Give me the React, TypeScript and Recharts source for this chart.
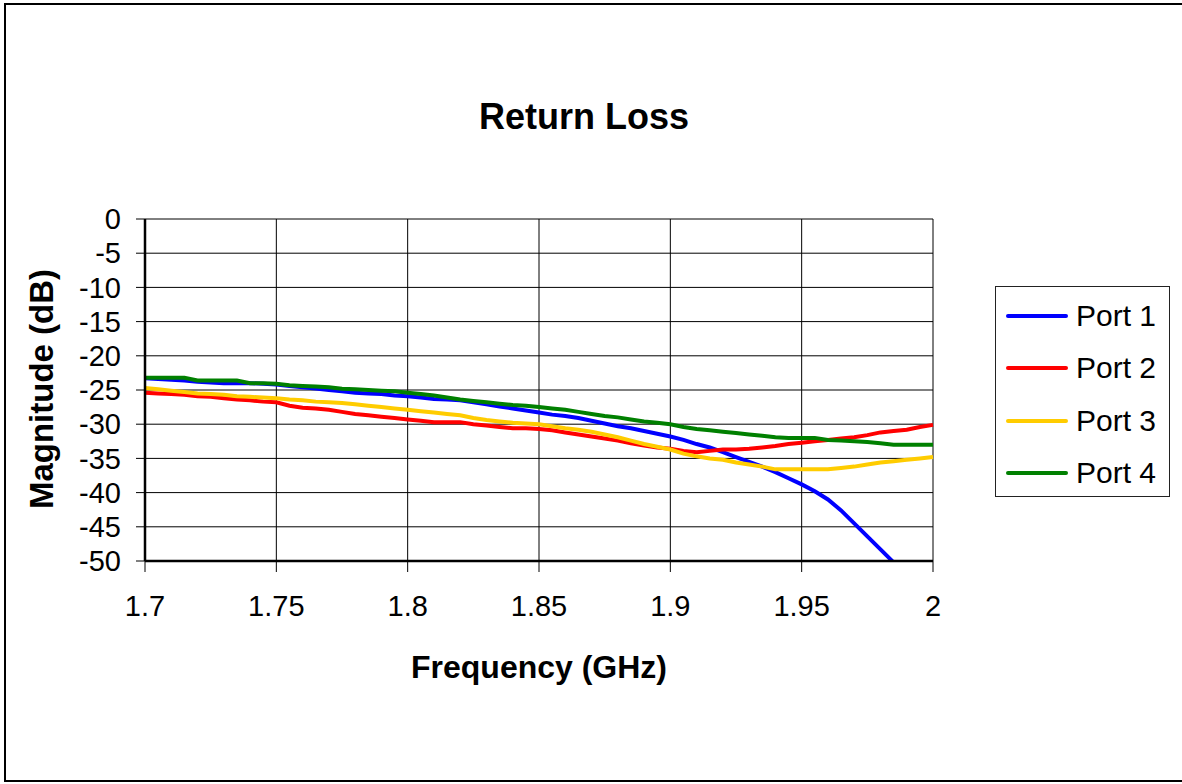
import React from "react";
import {
  LineChart,
  Line,
  XAxis,
  YAxis,
  CartesianGrid,
} from "recharts";

const FONT = "'Liberation Sans', Arial, sans-serif";

// frequency sweep, 1.7 - 2.0 GHz in 5 MHz steps
const freqs = [
  1.7, 1.705, 1.71, 1.715, 1.72, 1.725, 1.73, 1.735, 1.74, 1.745,
  1.75, 1.755, 1.76, 1.765, 1.77, 1.775, 1.78, 1.785, 1.79, 1.795,
  1.8, 1.805, 1.81, 1.815, 1.82, 1.825, 1.83, 1.835, 1.84, 1.845,
  1.85, 1.855, 1.86, 1.865, 1.87, 1.875, 1.88, 1.885, 1.89, 1.895,
  1.9, 1.905, 1.91, 1.915, 1.92, 1.925, 1.93, 1.935, 1.94, 1.945,
  1.95, 1.955, 1.96, 1.965, 1.97, 1.975, 1.98, 1.985, 1.99, 1.995,
  2.0,
];

const port1 = [
  -23.3, -23.4, -23.5, -23.6, -23.8, -23.9, -24.0, -24.0, -24.0, -24.1,
  -24.2, -24.4, -24.6, -24.8, -25.0, -25.2, -25.4, -25.5, -25.6, -25.8,
  -25.9, -26.1, -26.3, -26.4, -26.5, -26.8, -27.1, -27.4, -27.7, -28.0,
  -28.3, -28.6, -28.8, -29.1, -29.5, -29.9, -30.3, -30.6, -31.0, -31.4,
  -31.8, -32.3, -32.9, -33.4, -34.1, -34.8, -35.5, -36.2, -37.0, -37.9,
  -38.8, -39.8, -41.0, -42.6, -44.5, -46.4, -48.3, -50.2, null, null,
  null,
];

const port2 = [
  -25.4, -25.5, -25.6, -25.7, -25.9, -26.0, -26.2, -26.4, -26.5, -26.7,
  -26.8, -27.3, -27.6, -27.7, -27.9, -28.2, -28.5, -28.7, -28.9, -29.1,
  -29.3, -29.5, -29.7, -29.7, -29.7, -30.0, -30.2, -30.4, -30.6, -30.6,
  -30.7, -30.9, -31.2, -31.5, -31.8, -32.1, -32.4, -32.8, -33.1, -33.4,
  -33.6, -33.9, -34.1, -33.9, -33.7, -33.7, -33.6, -33.4, -33.2, -32.9,
  -32.7, -32.5, -32.3, -32.1, -31.9, -31.6, -31.2, -31.0, -30.8, -30.4,
  -30.1,
];

const port3 = [
  -24.7, -24.9, -25.1, -25.3, -25.5, -25.6, -25.7, -25.9, -26.0, -26.1,
  -26.2, -26.4, -26.5, -26.7, -26.8, -26.9, -27.1, -27.3, -27.5, -27.7,
  -27.9, -28.1, -28.3, -28.5, -28.7, -29.1, -29.4, -29.6, -29.8, -29.9,
  -30.0, -30.3, -30.6, -30.8, -31.1, -31.5, -31.9, -32.4, -32.9, -33.3,
  -33.7, -34.3, -34.7, -35.0, -35.2, -35.6, -35.9, -36.2, -36.6, -36.6,
  -36.6, -36.6, -36.6, -36.4, -36.2, -35.9, -35.6, -35.4, -35.2, -35.0,
  -34.8,
];

const port4 = [
  -23.2, -23.2, -23.2, -23.2, -23.6, -23.6, -23.6, -23.6, -24.0, -24.0,
  -24.1, -24.3, -24.4, -24.5, -24.6, -24.8, -24.9, -25.0, -25.1, -25.2,
  -25.4, -25.6, -25.8, -26.1, -26.4, -26.6, -26.8, -27.0, -27.2, -27.3,
  -27.5, -27.7, -27.9, -28.2, -28.5, -28.8, -29.0, -29.3, -29.6, -29.8,
  -30.0, -30.4, -30.7, -30.9, -31.1, -31.3, -31.5, -31.7, -31.9, -32.0,
  -32.0, -32.0, -32.3, -32.4, -32.5, -32.6, -32.8, -33.0, -33.0, -33.0,
  -33.0,
];

const xTicks = [1.7, 1.75, 1.8, 1.85, 1.9, 1.95, 2];
const yTicks = [0, -5, -10, -15, -20, -25, -30, -35, -40, -45, -50];

const series = [
  { key: "p1", name: "Port 1", color: "#0000FF", values: port1 },
  { key: "p2", name: "Port 2", color: "#FF0000", values: port2 },
  { key: "p3", name: "Port 3", color: "#FFCC00", values: port3 },
  { key: "p4", name: "Port 4", color: "#008000", values: port4 },
];

const data = freqs.map((f, i) => {
  const row: any = { f };
  series.forEach(s => {
    row[s.key] = s.values[i];
  });
  return row;
});

const tickStyle = { fill: "#000", fontSize: 29, fontFamily: FONT };

export default function App() {
  return (
    <div
      style={{
        position: "absolute",
        left: 0,
        top: 0,
        width: 1182,
        height: 784,
        background: "#fff",
        overflow: "hidden",
        fontFamily: FONT,
      }}
    >
      {/* outer frame, right edge runs off the page */}
      <div
        style={{
          position: "absolute",
          left: 4,
          top: 3,
          width: 1200,
          height: 779,
          border: "2.5px solid #000",
          boxSizing: "border-box",
        }}
      />

      <LineChart
        width={1182}
        height={784}
        data={data}
        margin={{ top: 219, right: 249, bottom: 0, left: 0 }}
        style={{ position: "absolute", left: 0, top: 0 }}
      >
        <CartesianGrid stroke="#000" strokeWidth={1} />
        <XAxis
          dataKey="f"
          type="number"
          domain={[1.7, 2]}
          ticks={xTicks}
          interval={0}
          height={223}
          tick={tickStyle}
          tickSize={11}
          tickMargin={23}
          axisLine={{ stroke: "#000", strokeWidth: 2.5 }}
          tickLine={{ stroke: "#000" }}
        />
        <YAxis
          type="number"
          domain={[-50, 0]}
          ticks={yTicks}
          interval={0}
          allowDataOverflow
          width={145}
          tick={tickStyle}
          tickSize={9}
          tickMargin={15}
          axisLine={{ stroke: "#000", strokeWidth: 2.5 }}
          tickLine={{ stroke: "#000" }}
        />
        {series.map(s => (
          <Line
            key={s.key}
            dataKey={s.key}
            name={s.name}
            type="linear"
            stroke={s.color}
            strokeWidth={4}
            dot={false}
            isAnimationActive={false}
          />
        ))}
      </LineChart>

      {/* titles */}
      <div
        style={{
          position: "absolute",
          left: 384,
          width: 400,
          top: 99,
          textAlign: "center",
          fontSize: 36,
          lineHeight: "36px",
          fontWeight: "bold",
        }}
      >
        Return Loss
      </div>
      <div
        style={{
          position: "absolute",
          left: 339,
          width: 400,
          top: 651,
          textAlign: "center",
          fontSize: 32,
          lineHeight: "32px",
          fontWeight: "bold",
        }}
      >
        Frequency (GHz)
      </div>
      <div
        style={{
          position: "absolute",
          left: 41,
          top: 389,
          transform: "translate(-50%, -50%) rotate(-90deg)",
          fontSize: 33,
          lineHeight: "33px",
          fontWeight: "bold",
          whiteSpace: "nowrap",
        }}
      >
        Magnitude (dB)
      </div>

      {/* legend */}
      <div
        style={{
          position: "absolute",
          left: 995,
          top: 286,
          width: 175,
          height: 211,
          border: "1px solid #222",
          boxSizing: "border-box",
        }}
      >
        {series.map((s, i) => (
          <div
            key={s.key}
            style={{
              position: "absolute",
              left: 10,
              top: 29 + i * 52.3 - 15,
              height: 30,
              display: "flex",
              alignItems: "center",
            }}
          >
            <div
              style={{
                width: 62,
                height: 4,
                borderRadius: 2,
                background: s.color,
              }}
            />
            <span
              style={{
                marginLeft: 8,
                fontSize: 30,
                lineHeight: "30px",
                whiteSpace: "nowrap",
              }}
            >
              {s.name}
            </span>
          </div>
        ))}
      </div>
    </div>
  );
}
